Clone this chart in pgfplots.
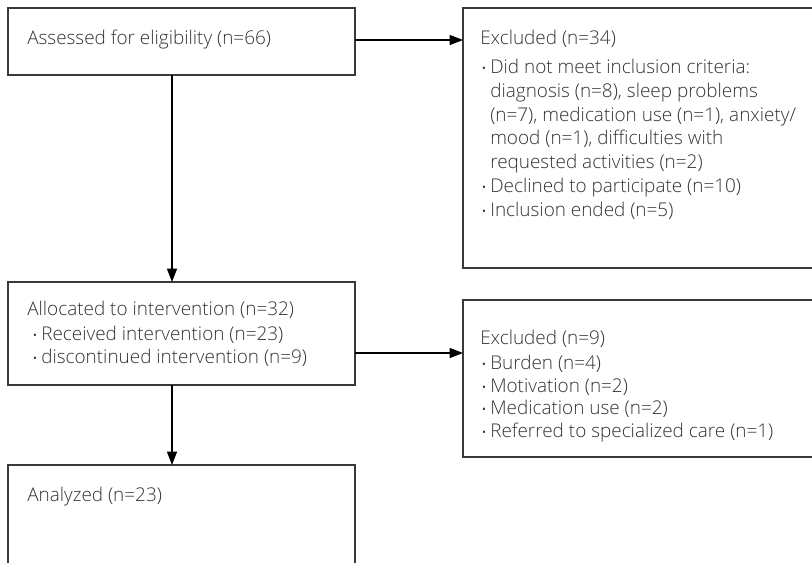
\documentclass[border=0pt]{standalone}
\usepackage{fontspec}
\IfFontExistsTF{Open Sans Light}{\setmainfont{Open Sans Light}}{\setmainfont{Open Sans}}
\usepackage{pgfplots}
\pgfplotsset{compat=1.18}
\usetikzlibrary{arrows.meta}
\definecolor{boxc}{HTML}{3A3A3A}
\definecolor{txt}{HTML}{333333}
\newcommand{\bul}{\scalebox{0.75}{\textbullet}}
\begin{document}
\begin{tikzpicture}
\begin{axis}[
  width=609pt, height=421.5pt, scale only axis,
  xmin=0, xmax=812, ymin=0, ymax=562, y dir=reverse,
  axis lines=none, ticks=none, clip=true,
  every axis plot/.append style={line join=miter},
]
% boxes
\addplot[draw=boxc, line width=1pt] coordinates {(8,8) (355,8) (355,75) (8,75) (8,8) (355,8)};
\addplot[draw=boxc, line width=1pt] coordinates {(463,8) (830,8) (830,268) (463,268) (463,8) (830,8)};
\addplot[draw=boxc, line width=1pt] coordinates {(8,282) (355,282) (355,385) (8,385) (8,282) (355,282)};
\addplot[draw=boxc, line width=1pt] coordinates {(463,300) (830,300) (830,457) (463,457) (463,300) (830,300)};
\addplot[draw=boxc, line width=1pt] coordinates {(8,465) (355,465) (355,580) (8,580) (8,465) (355,465)};
% arrows
\addplot[black, line width=0.9pt, -{Triangle[width=7.5pt,length=10pt]}] coordinates {(355,40) (463,40)};
\addplot[black, line width=0.9pt, -{Triangle[width=7.5pt,length=10pt]}] coordinates {(172,75) (172,282)};
\addplot[black, line width=0.9pt, -{Triangle[width=7.5pt,length=10pt]}] coordinates {(355,353) (463,353)};
\addplot[black, line width=0.9pt, -{Triangle[width=7.5pt,length=10pt]}] coordinates {(172,385) (172,465)};
% texts
\tikzset{t/.style={anchor=mid west, inner sep=0pt, text=txt, font=\fontsize{14.2}{16}\selectfont}}
\node[t] at (axis cs:27,41) {Assessed for eligibility (n=66)};
\node[t] at (axis cs:480,41) {Excluded (n=34)};
\node[t] at (axis cs:481,70) {\bul};
\node[t] at (axis cs:490,70) {Did not meet inclusion criteria:};
\node[t] at (axis cs:490,94) {diagnosis (n=8), sleep problems};
\node[t] at (axis cs:490,118) {(n=7), medication use (n=1), anxiety/};
\node[t] at (axis cs:490,141) {mood (n=1), difficulties with};
\node[t] at (axis cs:490,165) {requested activities (n=2)};
\node[t] at (axis cs:481,189) {\bul};
\node[t] at (axis cs:490,189) {Declined to participate (n=10)};
\node[t] at (axis cs:481,213) {\bul};
\node[t] at (axis cs:490,213) {Inclusion ended (n=5)};
\node[t] at (axis cs:27,312) {Allocated to intervention (n=32)};
\node[t] at (axis cs:32,337) {\bul};
\node[t] at (axis cs:41,337) {Received intervention (n=23)};
\node[t] at (axis cs:32,360) {\bul};
\node[t] at (axis cs:41,360) {discontinued intervention (n=9)};
\node[t] at (axis cs:480,341) {Excluded (n=9)};
\node[t] at (axis cs:481,366) {\bul};
\node[t] at (axis cs:490,366) {Burden (n=4)};
\node[t] at (axis cs:481,389) {\bul};
\node[t] at (axis cs:490,389) {Motivation (n=2)};
\node[t] at (axis cs:481,411) {\bul};
\node[t] at (axis cs:490,411) {Medication use (n=2)};
\node[t] at (axis cs:481,434) {\bul};
\node[t] at (axis cs:490,434) {Referred to specialized care (n=1)};
\node[t] at (axis cs:27,498) {Analyzed (n=23)};
\end{axis}
\pgfresetboundingbox
\path[use as bounding box] (0,0) rectangle (609pt,421.5pt);
\end{tikzpicture}
\end{document}
